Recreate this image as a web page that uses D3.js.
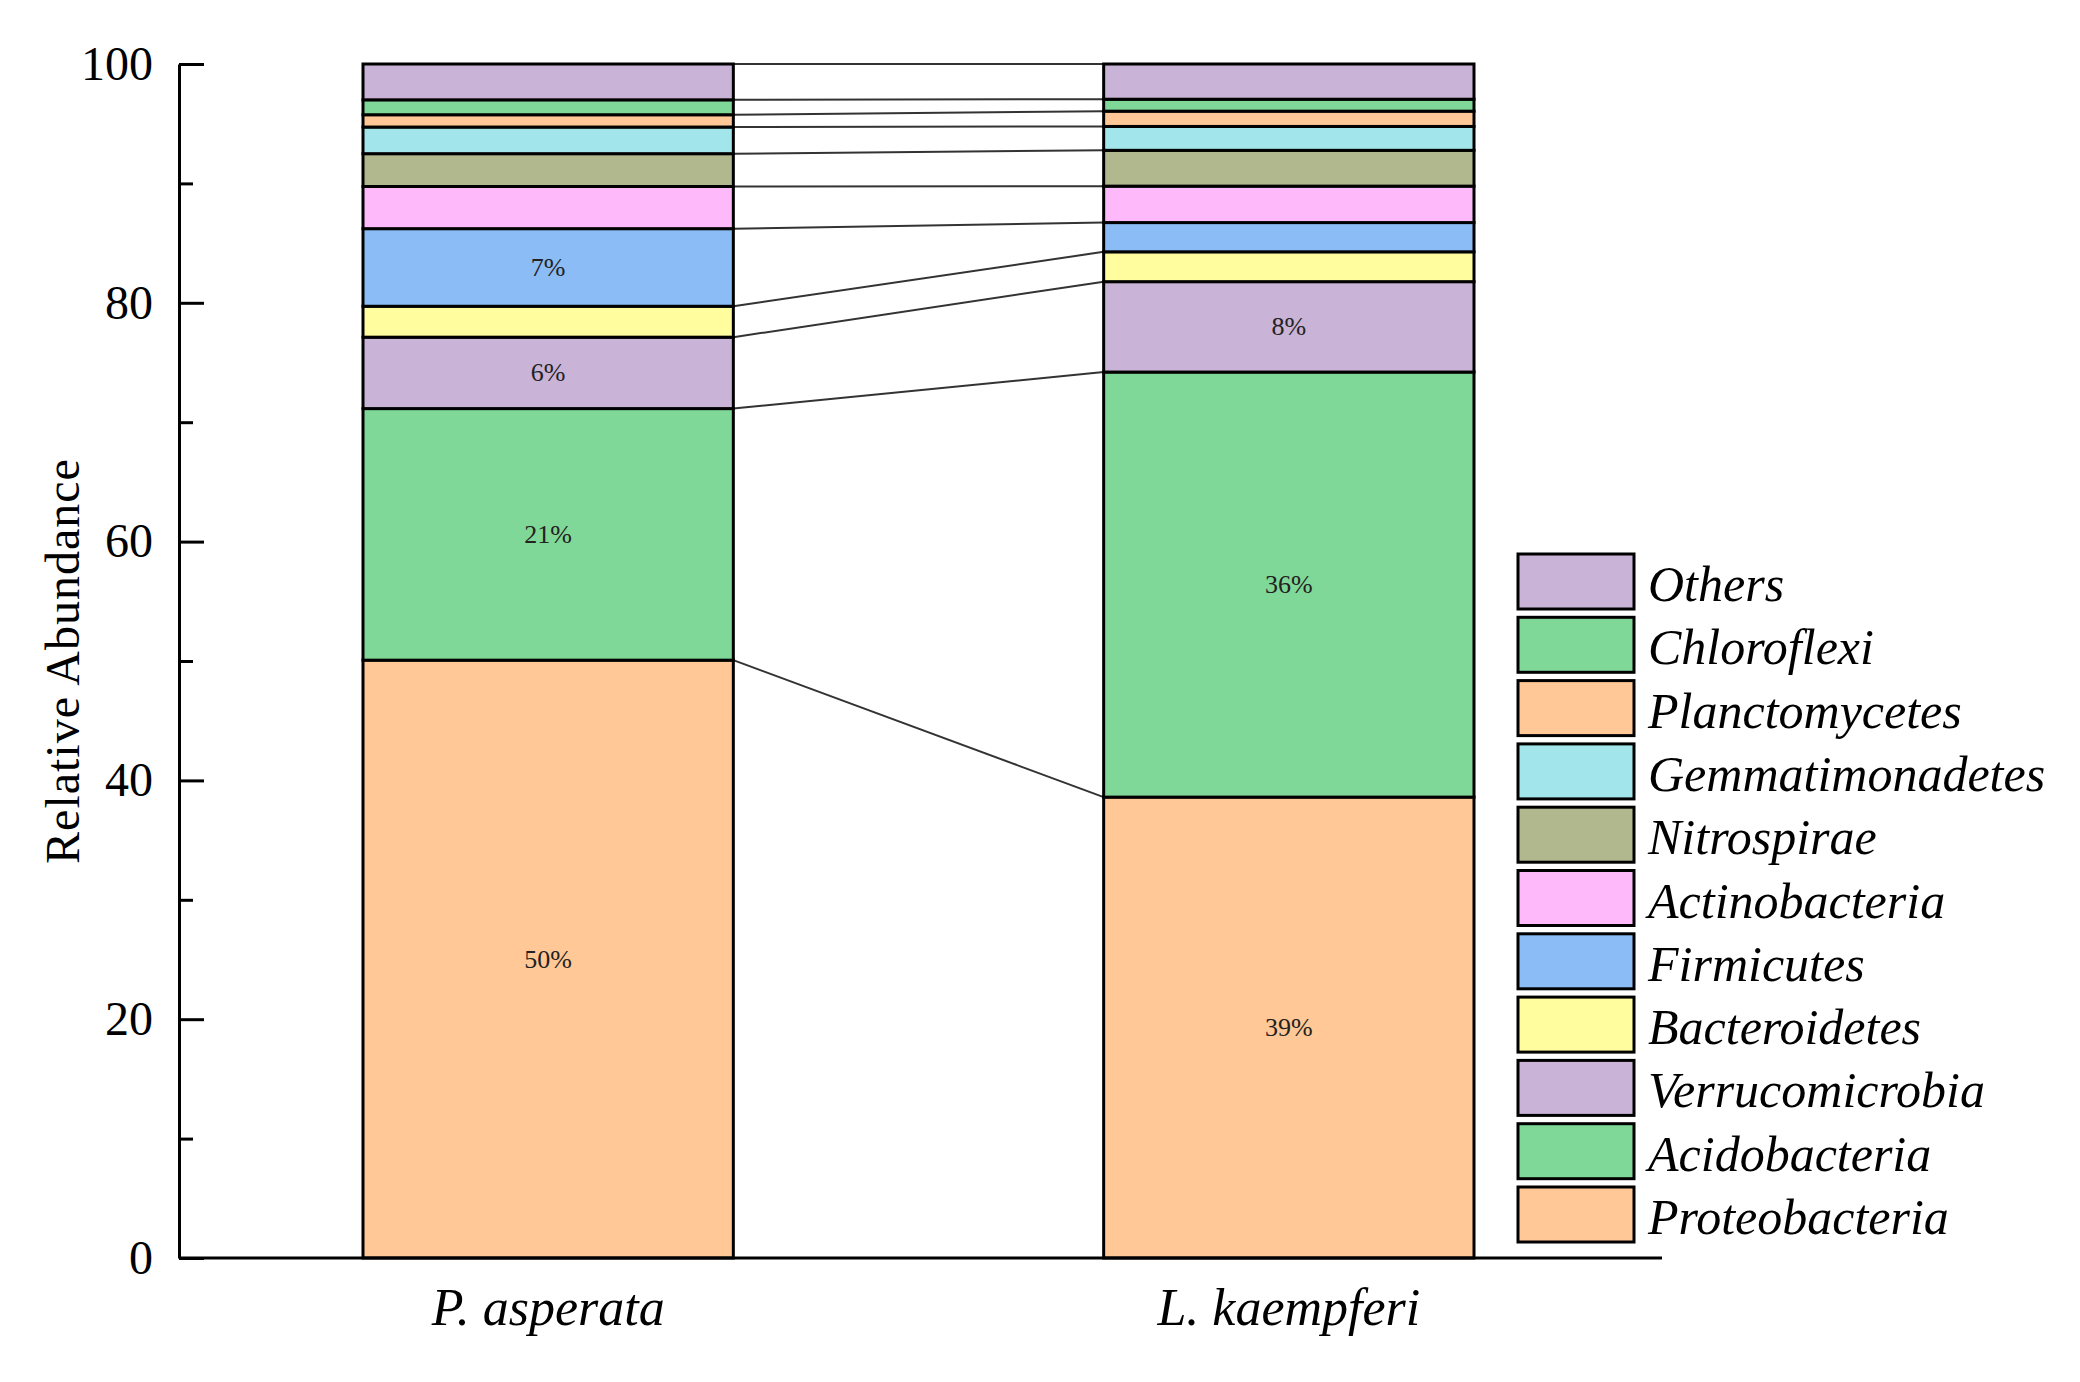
<!DOCTYPE html>
<html>
<head>
<meta charset="utf-8">
<script src="https://cdn.jsdelivr.net/npm/d3@7"></script>
<style>
  body { margin: 0; background: #fff; }
  text { font-family: "Liberation Serif", "DejaVu Serif", serif; }
</style>
</head>
<body>
<svg width="2080" height="1382"></svg>
<script>
// data (percent)
var categories = ["P. asperata", "L. kaempferi"];
var phyla = ["Proteobacteria", "Acidobacteria", "Verrucomicrobia", "Bacteroidetes", "Firmicutes",
             "Actinobacteria", "Nitrospirae", "Gemmatimonadetes", "Planctomycetes", "Chloroflexi", "Others"];
var pAsperata  = [50.07, 21.07, 5.98, 2.59, 6.50, 3.53, 2.75, 2.23, 1.03, 1.25, 3.00];
var lKaempferi = [38.60, 35.60, 7.57, 2.50, 2.45, 3.05, 3.00, 2.00, 1.28, 1.00, 2.95];
var colors = ["#FFC896", "#80D898", "#C9B3D6", "#FFFD9E", "#8BBCF5",
              "#FDB9F9", "#B1B88E", "#A2E6EC", "#FFC896", "#80D898", "#C9B3D6"];
var yTicks = [0, 20, 40, 60, 80, 100];
var yMinor = [10, 30, 50, 70, 90];

var svg = d3.select("svg");
var mLeft = 179, mTop = 64, mBottom = 1258, mRight = 1662;

// build rows for d3.stack
var rows = categories.map(function (c, i) {
    var vals = i === 0 ? pAsperata : lKaempferi;
    var r = { cat: c };
    phyla.forEach(function (p, j) { r[p] = vals[j]; });
    return r;
});
var series = d3.stack().keys(phyla)(rows);

var x = d3.scaleBand().domain(categories).range([363, 1474]).paddingInner(0.5).paddingOuter(0);
var y = d3.scaleLinear().domain([0, 100]).range([mBottom, mTop]);
var color = d3.scaleOrdinal().domain(phyla).range(colors);

// connector lines between the two bars
svg.append("g").selectAll("line")
    .data(series)
    .enter().append("line")
    .attr("x1", x(categories[0]) + x.bandwidth())
    .attr("x2", x(categories[1]))
    .attr("y1", function (s) { return y(s[0][1]); })
    .attr("y2", function (s) { return y(s[1][1]); })
    .attr("stroke", "#333")
    .attr("stroke-width", 2);

// stacked bars
var layer = svg.append("g").selectAll("g")
    .data(series)
    .enter().append("g")
    .attr("fill", function (s) { return color(s.key); });

layer.selectAll("rect")
    .data(function (s) { return s; })
    .enter().append("rect")
    .attr("x", function (d) { return x(d.data.cat); })
    .attr("width", x.bandwidth())
    .attr("y", function (d) { return y(d[1]); })
    .attr("height", function (d) { return y(d[0]) - y(d[1]); })
    .attr("stroke", "#000")
    .attr("stroke-width", 3);

// percent labels on the big segments
layer.selectAll("text")
    .data(function (s) { return s.filter(function (d) { return d[1] - d[0] >= 5; }); })
    .enter().append("text")
    .attr("x", function (d) { return x(d.data.cat) + x.bandwidth() / 2; })
    .attr("y", function (d) { return y((d[0] + d[1]) / 2); })
    .attr("text-anchor", "middle")
    .attr("dominant-baseline", "central")
    .attr("font-size", "26px")
    .attr("fill", "#222")
    .text(function (d) { return Math.round(d[1] - d[0]) + "%"; });

// y axis, ticks pointing inside
var yaxis = svg.append("g")
    .attr("transform", "translate(" + mLeft + ",0)")
    .call(d3.axisLeft(y).tickValues(yTicks).tickSizeInner(-25).tickSizeOuter(0).tickPadding(26));
svg.append("g")
    .attr("transform", "translate(" + mLeft + ",0)")
    .call(d3.axisLeft(y).tickValues(yMinor).tickSize(-14).tickFormat(""))
    .select(".domain").remove();
yaxis.selectAll("text").attr("font-size", "48px").attr("font-family", "Liberation Serif").attr("fill", "#000");
svg.selectAll(".tick line, .domain").attr("stroke", "#000").attr("stroke-width", 3);

svg.append("text")
    .attr("transform", "translate(62," + (mTop + mBottom) / 2 + ") rotate(-90)")
    .attr("text-anchor", "middle")
    .attr("dominant-baseline", "central")
    .attr("font-size", "48px")
    .attr("letter-spacing", "1px")
    .text("Relative Abundance");

// x axis baseline and category labels
svg.append("line")
    .attr("x1", mLeft).attr("x2", mRight)
    .attr("y1", mBottom).attr("y2", mBottom)
    .attr("stroke", "#000").attr("stroke-width", 3);

var xaxis = svg.append("g")
    .attr("transform", "translate(0," + mBottom + ")")
    .call(d3.axisBottom(x).tickSize(0).tickPadding(30));
xaxis.select(".domain").remove();
xaxis.selectAll("text")
    .attr("font-size", "52px")
    .attr("font-style", "italic")
    .attr("font-family", "Liberation Serif")
    .attr("fill", "#000");

// legend, Others on top
var legend = svg.append("g").selectAll("g")
    .data(phyla.slice().reverse())
    .enter().append("g")
    .attr("transform", function (d, i) { return "translate(1518," + (554 + i * 63.3) + ")"; });

legend.append("rect")
    .attr("width", 116)
    .attr("height", 55)
    .attr("fill", function (d) { return color(d); })
    .attr("stroke", "#000")
    .attr("stroke-width", 3);

legend.append("text")
    .attr("x", 130)
    .attr("y", 30)
    .attr("dominant-baseline", "central")
    .attr("font-size", "50px")
    .attr("font-style", "italic")
    .text(function (d) { return d; });
</script>
</body>
</html>
